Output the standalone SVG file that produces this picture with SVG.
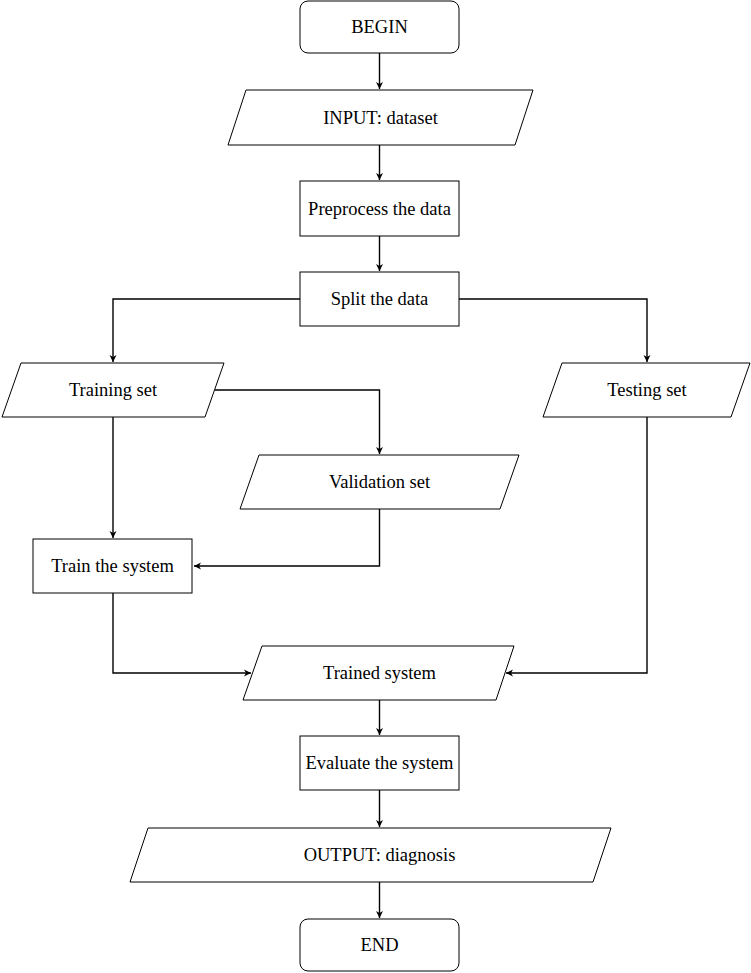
<svg xmlns="http://www.w3.org/2000/svg" width="751" height="973" viewBox="0 0 751 973">
<style>
.s{fill:#fff;stroke:#000;stroke-width:1}
.t{font-family:"Liberation Serif","Times New Roman",serif;font-size:18.5px;text-anchor:middle;fill:#000}
.c{fill:none;stroke:#000;stroke-width:1.4;marker-end:url(#a)}
</style>
<defs>
<marker id="a" viewBox="-8 -4 9 8" refX="0" refY="0" markerWidth="9" markerHeight="8" markerUnits="userSpaceOnUse" orient="auto">
<path d="M0,0 L-7,-3.5 L-5,0 L-7,3.5 Z" fill="#000"/>
</marker>
</defs>
<rect width="751" height="973" fill="#fff"/>
<g id="connectors">
<path class="c" d="M379.5,53 V89"/>
<path class="c" d="M379.5,145 V180"/>
<path class="c" d="M379.5,236 V271"/>
<path class="c" d="M300,299 H113 V362"/>
<path class="c" d="M459,299 H647 V362"/>
<path class="c" d="M215,390 H379.5 V454"/>
<path class="c" d="M113,417 V538"/>
<path class="c" d="M379.5,509 V566 H194"/>
<path class="c" d="M113,593 V673 H251"/>
<path class="c" d="M647,417 V673 H506"/>
<path class="c" d="M379.5,700 V735"/>
<path class="c" d="M379.5,790 V827"/>
<path class="c" d="M379.5,882 V918"/>
</g>
<g id="begin"><rect class="s" x="300" y="1" width="159" height="52" rx="8"/><text class="t" x="379.5" y="33">BEGIN</text></g>
<g id="input"><polygon class="s" points="246,90 533,90 515,145 228,145"/><text class="t" x="380.5" y="124">INPUT: dataset</text></g>
<g id="preprocess"><rect class="s" x="300" y="181" width="159" height="55"/><text class="t" x="379.5" y="215">Preprocess the data</text></g>
<g id="split"><rect class="s" x="300" y="272" width="159" height="54"/><text class="t" x="379.5" y="305">Split the data</text></g>
<g id="training"><polygon class="s" points="21,363 224,363 205,417 2,417"/><text class="t" x="113" y="396">Training set</text></g>
<g id="testing"><polygon class="s" points="562,363 750,363 731,417 543,417"/><text class="t" x="647" y="396">Testing set</text></g>
<g id="validation"><polygon class="s" points="259,455 519,455 500,509 240,509"/><text class="t" x="379.5" y="488">Validation set</text></g>
<g id="train"><rect class="s" x="33" y="539" width="159" height="54"/><text class="t" x="112.5" y="572">Train the system</text></g>
<g id="trained"><polygon class="s" points="262,646 514,646 496,700 243,700"/><text class="t" x="379.5" y="679">Trained system</text></g>
<g id="evaluate"><rect class="s" x="300" y="736" width="159" height="54"/><text class="t" x="379.5" y="769">Evaluate the system</text></g>
<g id="output"><polygon class="s" points="148,828 611,828 593,882 130,882"/><text class="t" x="379.5" y="861">OUTPUT: diagnosis</text></g>
<g id="end"><rect class="s" x="300" y="919" width="159" height="52" rx="8"/><text class="t" x="379.5" y="951">END</text></g>
</svg>
